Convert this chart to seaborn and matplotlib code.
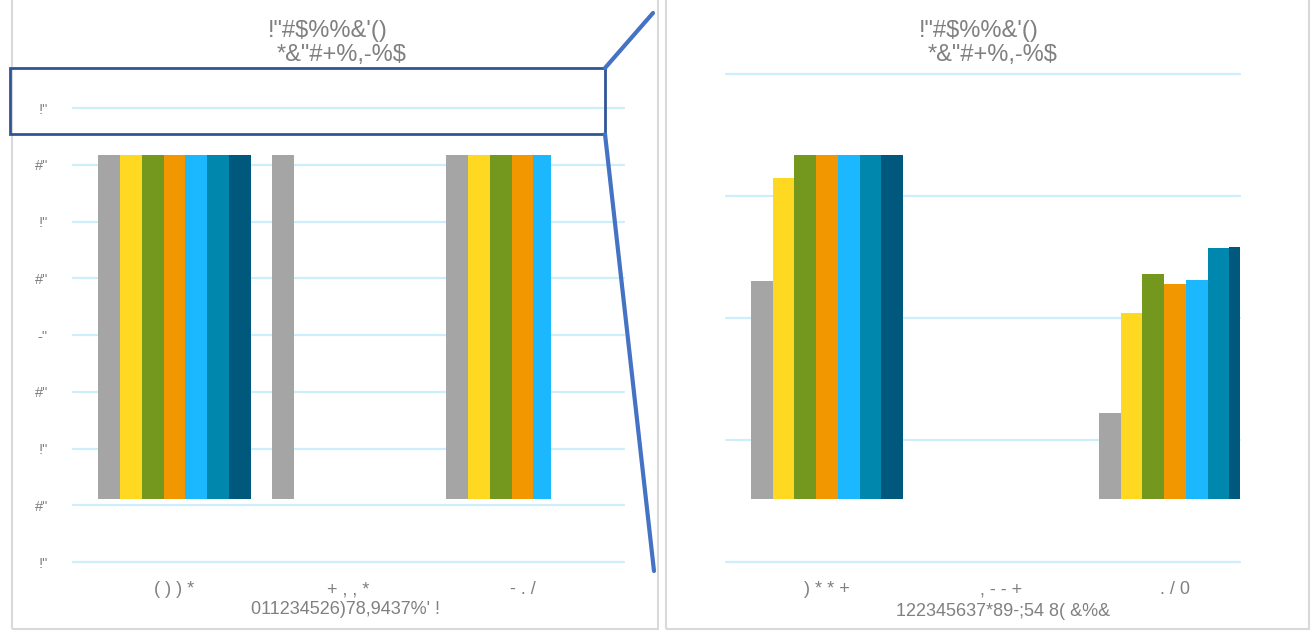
import numpy as np
import pandas as pd
import seaborn as sns
import matplotlib.pyplot as plt
from matplotlib.patches import Rectangle
from matplotlib.lines import Line2D
from matplotlib.transforms import Bbox, TransformedBbox

W, H = 1311, 631

# ---- data ------------------------------------------------------------
title_line1 = '!"#$%%&\'()'
title_line2 = '*&"#+%,-%$'

left_categories = ['( ) ) *', '+ , , *', '- . /']
left_xlabel = "011234526)78,9437%' !"
left_yticks = [0, 1, 2, 3, 4, 5, 6, 7, 8]
left_yticklabels = ['!"', '#"', '!"', '#"', '-"', '#"', '!"', '#"', '!"']

right_categories = [') * * +', ', - - +', '. / 0']
right_xlabel = "122345637*89-;54 8( &%&"
right_yticks = [0, 1, 2, 3, 4]

series = ['s1', 's2', 's3', 's4', 's5', 's6', 's7']
palette = ['#a5a5a5', '#ffd822', '#74981e', '#f39700', '#1cb8ff', '#0087ae', '#00587d']

# left panel (bars run past the visible window)
left_s1 = [7.6, 7.6, 7.6]
left_s2 = [7.6, 0.0, 7.6]
left_s3 = [7.6, 0.0, 7.6]
left_s4 = [7.6, 0.0, 7.6]
left_s5 = [7.6, 0.0, 7.6]
left_s6 = [7.6, 0.0, 0.0]
left_s7 = [7.6, 0.0, 0.0]

# right panel
right_s1 = [2.30, 0.0, 1.22]
right_s2 = [3.15, 0.0, 2.04]
right_s3 = [3.55, 0.0, 2.36]
right_s4 = [3.50, 0.0, 2.28]
right_s5 = [3.60, 0.0, 2.31]
right_s6 = [3.70, 0.0, 2.57]
right_s7 = [3.80, 0.0, 2.58]


def long_frame(cats, cols):
    rows = []
    for name, vals in zip(series, cols):
        for c, v in zip(cats, vals):
            rows.append({'cat': c, 'series': name, 'value': v})
    return pd.DataFrame(rows)


left_df = long_frame(left_categories,
                     [left_s1, left_s2, left_s3, left_s4, left_s5, left_s6, left_s7])
right_df = long_frame(right_categories,
                      [right_s1, right_s2, right_s3, right_s4, right_s5, right_s6, right_s7])

# ---- style -----------------------------------------------------------
sns.set_style('white')
plt.rcParams['font.family'] = ['Liberation Sans', 'DejaVu Sans']
text_grey = '#808080'
grid_col = '#cdeefb'

fig = plt.figure(figsize=(W / 100, H / 100), dpi=100)


def px_axes(x0, y_top, x1, y_bot):
    return fig.add_axes([x0 / W, (H - y_bot) / H, (x1 - x0) / W, (y_bot - y_top) / H])


def clip_px(x0, y_top, x1, y_bot):
    bb = Bbox.from_extents(x0 / W, (H - y_bot) / H, x1 / W, (H - y_top) / H)
    return TransformedBbox(bb, fig.transFigure)


def style_axes(ax, cats, yticks, ylabels, xlabel, xlab_x):
    for s in ax.spines.values():
        s.set_visible(False)
    ax.set_yticks(yticks)
    ax.set_ylim(yticks[0], yticks[-1])
    ax.yaxis.grid(True, color=grid_col, lw=1.6)
    for gl in ax.get_ygridlines():
        gl.set_clip_on(False)
    ax.set_axisbelow(True)
    ax.set_yticklabels(ylabels, fontsize=10.5, color=text_grey)
    ax.tick_params(axis='y', length=0, pad=18)
    ax.set_xticks(range(len(cats)))
    ax.set_xticklabels(cats, fontsize=13, color=text_grey)
    ax.tick_params(axis='x', length=0, pad=14)
    ax.set_xlabel(xlabel, fontsize=13, color=text_grey)
    ax.xaxis.set_label_coords(xlab_x, -0.085)
    ax.set_ylabel('')


# left panel
axl = px_axes(73, 108, 624, 562)
sns.barplot(data=left_df, x='cat', y='value', hue='series', order=left_categories,
            palette=palette, width=0.874, gap=0, saturation=1, errorbar=None,
            legend=False, linewidth=0, ax=axl)
axl.set_xlim(-0.583, 2.583)
style_axes(axl, left_categories, left_yticks, left_yticklabels, left_xlabel, 0.495)
box = clip_px(73, 155, 551, 499)
for p in axl.patches:
    p.set_clip_box(box)

# right panel
axr = px_axes(726, 74, 1240, 562)
sns.barplot(data=right_df, x='cat', y='value', hue='series', order=right_categories,
            palette=palette, width=0.874, gap=0, saturation=1, errorbar=None,
            legend=False, linewidth=0, ax=axr)
axr.set_xlim(-0.580, 2.374)
style_axes(axr, right_categories, right_yticks, [''] * len(right_yticks), right_xlabel, 0.539)
box = clip_px(726, 155, 1240, 499)
for p in axr.patches:
    p.set_clip_box(box)

# titles
for cx1, cx2 in [(328, 342), (979, 993)]:
    fig.text(cx1 / W, 1 - 31 / H, title_line1, ha='center', va='center',
             fontsize=17, color=text_grey)
    fig.text(cx2 / W, 1 - 55 / H, title_line2, ha='center', va='center',
             fontsize=17, color=text_grey)

# panel borders
for x0, x1 in [(12, 658), (666, 1309)]:
    fig.patches.append(Rectangle((x0 / W, 2 / H), (x1 - x0) / W, 1.2,
                                 transform=fig.transFigure, fill=False,
                                 edgecolor='#d9d9d9', lw=1.5))

# zoom callout
fig.patches.append(Rectangle((10 / W, 1 - 134 / H), 595 / W, 66 / H,
                             transform=fig.transFigure, fill=False,
                             edgecolor='#2f5597', lw=2))
fig.lines.append(Line2D([605 / W, 653 / W], [1 - 68 / H, 1 - 13 / H],
                        transform=fig.transFigure, color='#4472c4', lw=3))
fig.lines.append(Line2D([605 / W, 654 / W], [1 - 134 / H, 1 - 571 / H],
                        transform=fig.transFigure, color='#4472c4', lw=3))

fig.savefig('out.png', dpi=100)
